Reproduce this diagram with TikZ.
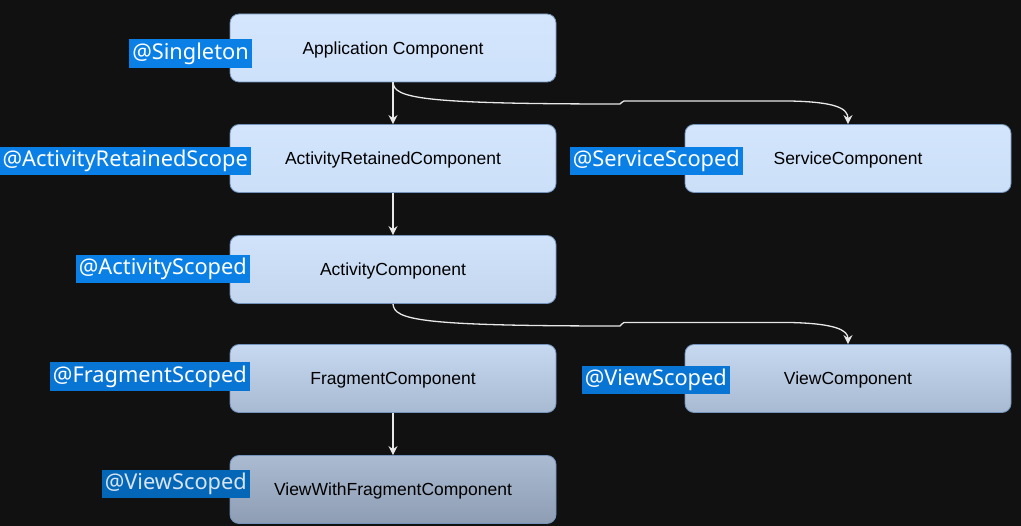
\documentclass[tikz,border=0pt]{standalone}
\usepackage{fontspec}
\setmainfont{Liberation Sans}
\newfontfamily\labfont{Noto Sans}
\usetikzlibrary{arrows.meta}
\definecolor{bg}{HTML}{111111}
\definecolor{edge}{HTML}{7393BC}
\definecolor{labA}{HTML}{0A80E6}
\definecolor{labB}{HTML}{0874D4}
\definecolor{labC}{HTML}{0466B6}
\definecolor{labtxtC}{HTML}{D7E4F0}
\definecolor{wire}{HTML}{E8E8E8}
\definecolor{c1t}{HTML}{D4E6FD}\definecolor{c1b}{HTML}{CDE1FA}
\definecolor{c2t}{HTML}{D2E5FC}\definecolor{c2b}{HTML}{CBDFF8}
\definecolor{c3t}{HTML}{D0E3FA}\definecolor{c3b}{HTML}{C3D6EE}
\definecolor{c4t}{HTML}{C6D9F0}\definecolor{c4b}{HTML}{A8BAD2}
\definecolor{c5t}{HTML}{AABBD2}\definecolor{c5b}{HTML}{8E9DB3}
\tikzset{
  comp/.style n args={2}{draw=edge, line width=0.8pt, rounded corners=9pt,
    top color=#1, bottom color=#2, minimum width=326pt, minimum height=68pt,
    inner sep=0pt, text height=12.5pt, text depth=0pt,
    font=\fontsize{17.5}{19}\selectfont, text=black},
  scopelab/.style={fill=#1, text=white, inner xsep=3pt, inner ysep=2pt,
    font=\labfont\fontsize{21.8}{23}\selectfont, anchor=east, minimum height=28.5pt},
  conn/.style={draw=wire, line width=1.3pt, -{Stealth[length=9pt,width=9pt,inset=3pt]}},
}
\begin{document}
\begin{tikzpicture}[x=1pt,y=-1pt]
\fill[bg] (0,0) rectangle (1021,526);
\useasboundingbox (0,0) rectangle (1021,526);

\node[comp={c1t}{c1b}] (app) at (393,48) {Application Component};
\node[comp={c2t}{c2b}] (ret) at (393,158.5) {ActivityRetainedComponent};
\node[comp={c2t}{c2b}] (svc) at (848,158.5) {ServiceComponent};
\node[comp={c3t}{c3b}] (act) at (393,269.5) {ActivityComponent};
\node[comp={c4t}{c4b}] (frag) at (393,378.5) {FragmentComponent};
\node[comp={c4t}{c4b}] (view) at (848,378.5) {ViewComponent};
\node[comp={c5t}{c5b}] (vwf) at (393,489.5) {ViewWithFragmentComponent};

\node[scopelab=labA] (l1) at (252,53.5) {@Singleton};
\node[scopelab=labA] (l2) at (251,161) {@ActivityRetainedScope};
\node[scopelab=labA] (l3) at (743,161) {@ServiceScoped};
\node[scopelab=labA] (l4) at (250,269) {@ActivityScoped};
\node[scopelab=labB] (l5) at (250,376.5) {@FragmentScoped};
\node[scopelab=labB] (l6) at (730,380) {@ViewScoped};
\node[scopelab=labC, text=labtxtC] (l7) at (250,484) {@ViewScoped};

\draw[conn] (app.south) -- (ret.north);
\draw[conn] (ret.south) -- (act.north);
\draw[conn] (frag.south) -- (vwf.north);

\coordinate (s1) at (620,104);
\coordinate (s2) at (624,101);
\draw[conn] (app.south) .. controls (394,98) and (420,104) .. (s1)
  .. controls (622,104) and (621,101) .. (s2) -- (790,101)
  .. controls (835,102) and (848,108) .. (svc.north);

\coordinate (t1) at (620,326);
\coordinate (t2) at (624,322.5);
\draw[conn] (act.south) .. controls (394,320) and (420,326) .. (t1)
  .. controls (622,326) and (621,322.5) .. (t2) -- (790,322.5)
  .. controls (835,323.5) and (848,330) .. (view.north);
\end{tikzpicture}
\end{document}
